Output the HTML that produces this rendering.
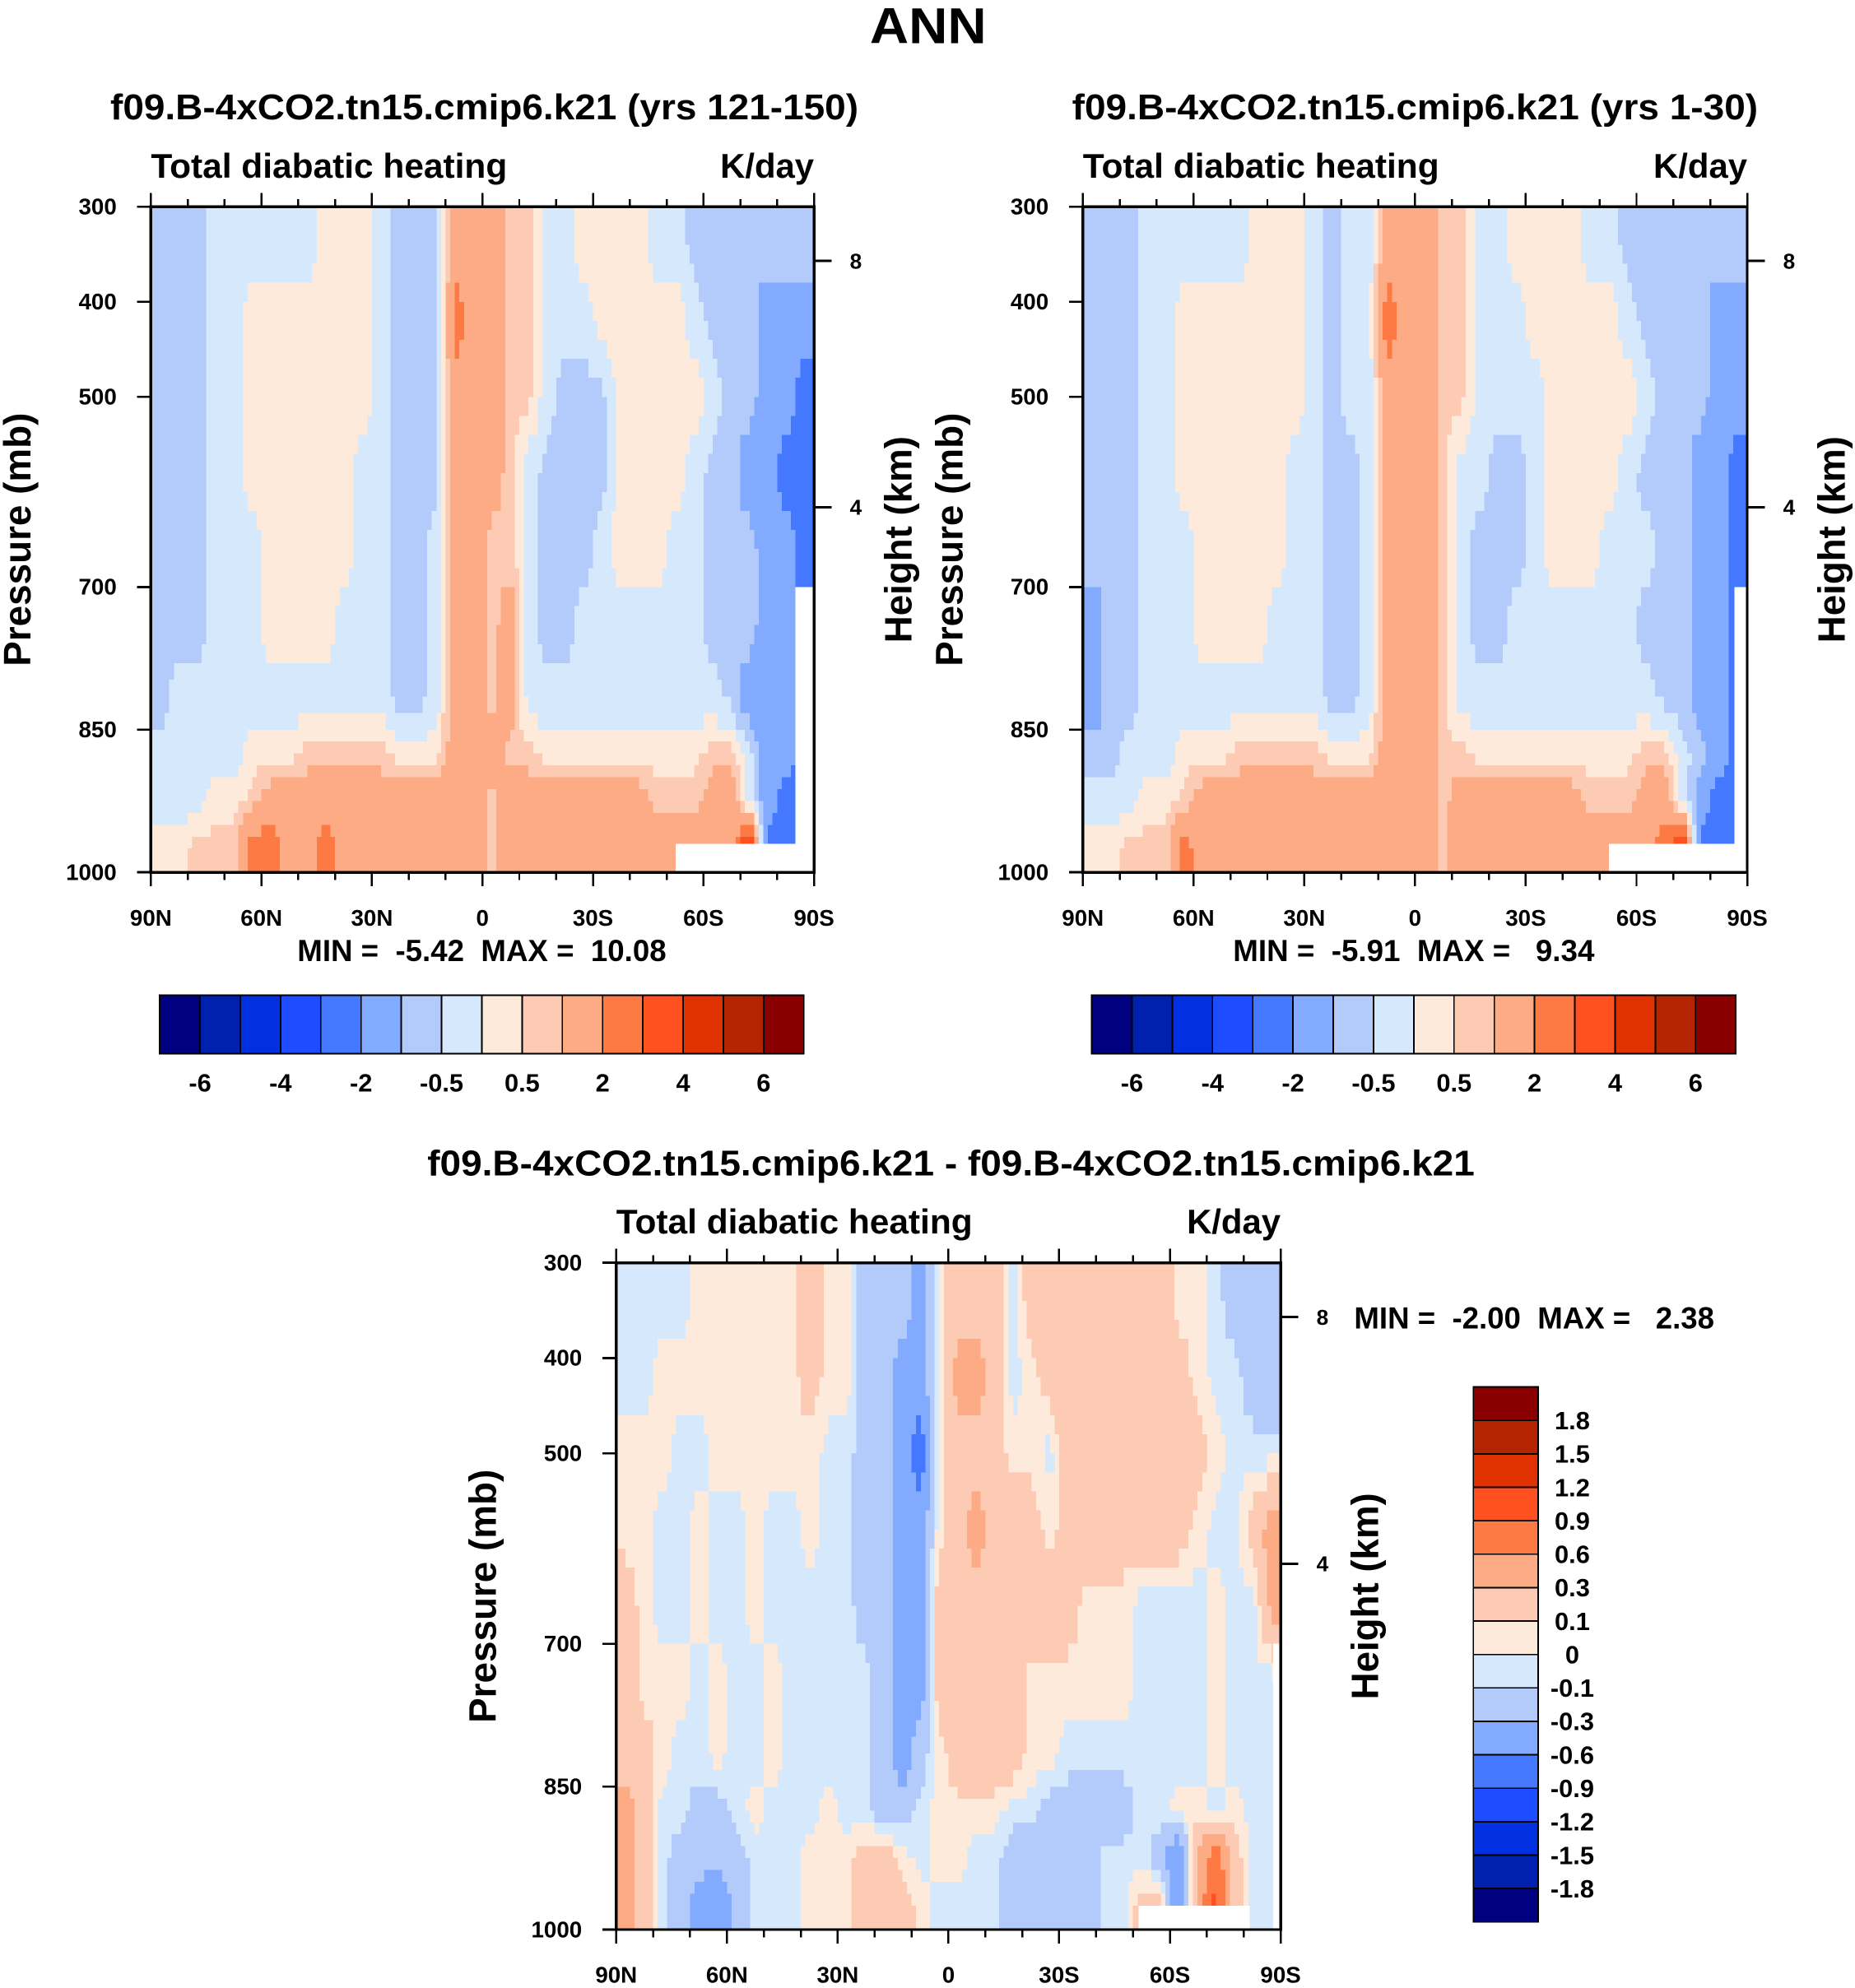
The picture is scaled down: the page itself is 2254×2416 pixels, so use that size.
<!DOCTYPE html>
<html><head><meta charset="utf-8"><style>
html,body{margin:0;padding:0;background:#fff}
svg{display:block}
text{font-family:"Liberation Sans",Arial,sans-serif;font-weight:bold;fill:#000}
</style></head><body>
<svg id="fig" width="2254" height="2416" viewBox="0 0 1463 1568" xmlns="http://www.w3.org/2000/svg" shape-rendering="crispEdges">
<rect x="0" y="0" width="1463" height="1568" fill="#fff"/>
<text x="732" y="34" font-size="40" text-anchor="middle" textLength="92" lengthAdjust="spacingAndGlyphs">ANN</text>
<text x="382" y="94" font-size="28" text-anchor="middle" textLength="590" lengthAdjust="spacingAndGlyphs">f09.B-4xCO2.tn15.cmip6.k21 (yrs 121-150)</text>
<text x="1116" y="94" font-size="28" text-anchor="middle" textLength="541" lengthAdjust="spacingAndGlyphs">f09.B-4xCO2.tn15.cmip6.k21 (yrs 1-30)</text>
<text x="750" y="927" font-size="28" text-anchor="middle" textLength="826" lengthAdjust="spacingAndGlyphs">f09.B-4xCO2.tn15.cmip6.k21 - f09.B-4xCO2.tn15.cmip6.k21</text>
<g id="p1"></g>
<g id="p2"></g>
<g id="p3"></g>
<text x="380" y="758" font-size="24" text-anchor="middle" textLength="291" lengthAdjust="spacingAndGlyphs" xml:space="preserve">MIN =  -5.42  MAX =  10.08</text>
<text x="1115" y="758" font-size="24" text-anchor="middle" textLength="285" lengthAdjust="spacingAndGlyphs" xml:space="preserve">MIN =  -5.91  MAX =   9.34</text>
<text x="1068" y="1048" font-size="24" textLength="284" lengthAdjust="spacingAndGlyphs" xml:space="preserve">MIN =  -2.00  MAX =   2.38</text>
<g id="cb1"></g>
<g id="cb2"></g>
<g id="cb3"></g>
</svg>
<script>
const NS="http://www.w3.org/2000/svg";
const pressureEdges=[300,380,460,540,620,700,780,850,900,950,1000];
const latEdges=[90,85,80,75,70,65,60,55,50,45,40,35,30,25,20,15,10,5,0,-5,-10,-15,-20,-25,-30,-35,-40,-45,-50,-55,-60,-65,-70,-75,-80,-85,-90];
const xTickLats=[90,60,30,0,-30,-60,-90];
const xTickLabels=["90N","60N","30N","0","30S","60S","90S"];
const yTickPressures=[300,400,500,700,850,1000];
const yTickLabels=["300","400","500","700","850","1000"];
const heightKm=["8","4"];
const heightP=[357,616];
const topLevels=[-6,-5,-4,-3,-2,-1,-0.5,0,0.5,1,2,3,4,5,6];
const topLevelLabels=["-6","-4","-2","-0.5","0.5","2","4","6"];
const diffLevels=[-1.8,-1.5,-1.2,-0.9,-0.6,-0.3,-0.1,0,0.1,0.3,0.6,0.9,1.2,1.5,1.8];
const diffLevelLabels=["-1.8","-1.5","-1.2","-0.9","-0.6","-0.3","-0.1","0","0.1","0.3","0.6","0.9","1.2","1.5","1.8"];
const palette=["#000080","#0020b0","#0030e0","#1e4cff","#4478ff","#82aaff","#b3cbfb","#d6e8fc","#feeada","#fdcbb3","#fdab85","#fd7a45","#ff5020","#e03200","#b42400","#8a0000"];

const panel1Values=[
[-0.7,-0.7,-0.7,-0.3,-0.3,-0.3,-0.3,-0.3,-0.3,0.3,0.3,0.3,-0.3,-0.7,-0.7,-0.7,1.5,1.5,1.5,0.7,0.7,-0.3,-0.3,0.3,0.3,0.3,0.3,-0.3,-0.3,-0.7,-0.7,-0.7,-0.7,-0.7,-0.7,-0.7],
[-0.7,-0.7,-0.7,-0.3,-0.3,0.3,0.3,0.3,0.3,0.3,0.3,0.3,-0.3,-0.7,-0.7,-0.7,2.5,1.5,1.5,0.7,0.7,-0.3,-0.3,-0.3,0.3,0.3,0.3,0.3,0.3,-0.3,-0.7,-0.7,-0.7,-1.5,-1.5,-1.5],
[-0.7,-0.7,-0.7,-0.3,-0.3,0.3,0.3,0.3,0.3,0.3,0.3,0.3,-0.3,-0.7,-0.7,-0.7,1.5,1.5,1.5,0.7,0.7,-0.3,-0.7,-0.7,-0.7,0.3,0.3,0.3,0.3,0.3,-0.3,-0.7,-0.7,-1.5,-1.5,-2.5],
[-0.7,-0.7,-0.7,-0.3,-0.3,0.3,0.3,0.3,0.3,0.3,0.3,-0.3,-0.3,-0.7,-0.7,-0.7,1.5,1.5,1.5,0.7,-0.3,-0.7,-0.7,-0.7,-0.7,0.3,0.3,0.3,0.3,-0.3,-0.7,-0.7,-1.5,-1.5,-2.5,-2.5],
[-0.7,-0.7,-0.7,-0.3,-0.3,-0.3,0.3,0.3,0.3,0.3,0.3,-0.3,-0.3,-0.7,-0.7,-0.3,1.5,1.5,0.7,0.7,-0.3,-0.7,-0.7,-0.7,-0.3,0.3,0.3,0.3,-0.3,-0.3,-0.7,-0.7,-0.7,-1.5,-1.5,-2.5],
[-0.7,-0.7,-0.7,-0.3,-0.3,-0.3,0.3,0.3,0.3,0.3,-0.3,-0.3,-0.3,-0.7,-0.7,-0.3,1.5,1.5,0.7,1.5,-0.3,-0.7,-0.7,-0.3,-0.3,-0.3,-0.3,-0.3,-0.3,-0.3,-0.7,-0.7,-0.7,-1.5,-1.5,-2.5],
[-0.7,-0.3,-0.3,-0.3,-0.3,-0.3,-0.3,-0.3,-0.3,-0.3,-0.3,-0.3,-0.3,-0.7,-0.7,-0.3,1.5,1.5,0.7,1.5,-0.3,-0.3,-0.3,-0.3,-0.3,-0.3,-0.3,-0.3,-0.3,-0.3,-0.3,-0.7,-1.5,-1.5,-1.5,-2.5],
[-0.3,-0.3,-0.3,-0.3,-0.3,0.3,0.3,0.3,0.7,0.7,0.7,0.7,0.7,0.3,0.3,0.3,1.5,1.5,1.5,0.7,0.7,0.3,0.3,0.3,0.3,0.3,0.3,0.3,0.3,0.3,0.7,0.7,-0.3,-1.5,-1.5,-2.5],
[-0.3,-0.3,-0.3,0.3,0.3,0.7,1.5,1.5,1.5,1.5,1.5,1.5,1.5,1.5,1.5,1.5,1.5,1.5,0.7,1.5,1.5,1.5,1.5,1.5,1.5,1.5,1.5,0.7,0.7,0.7,1.5,1.5,-0.3,-1.5,-2.5,-2.5],
[0.3,0.3,0.7,0.7,0.7,2.5,2.5,1.5,1.5,2.5,1.5,1.5,1.5,1.5,1.5,1.5,1.5,1.5,0.7,1.5,1.5,1.5,1.5,1.5,1.5,1.5,1.5,1.5,1.5,1.5,1.5,1.5,4.5,-2.5,-2.5,-2.5]
];
const panel2Values=[
[-0.7,-0.7,-0.7,-0.3,-0.3,-0.3,-0.3,-0.3,-0.3,0.3,0.3,0.3,-0.3,-0.7,-0.3,-0.3,1.5,1.5,1.5,0.7,0.7,-0.3,-0.3,0.3,0.3,0.3,0.3,-0.3,-0.3,-0.7,-0.7,-0.7,-0.7,-0.7,-0.7,-0.7],
[-0.7,-0.7,-0.7,-0.3,-0.3,0.3,0.3,0.3,0.3,0.3,0.3,0.3,-0.3,-0.7,-0.3,-0.3,2.5,1.5,1.5,0.7,0.7,-0.3,-0.3,-0.3,0.3,0.3,0.3,0.3,0.3,-0.3,-0.7,-0.7,-0.7,-0.7,-1.5,-1.5],
[-0.7,-0.7,-0.7,-0.3,-0.3,0.3,0.3,0.3,0.3,0.3,0.3,0.3,-0.3,-0.7,-0.3,-0.3,1.5,1.5,1.5,0.7,0.7,-0.3,-0.3,-0.3,-0.3,0.3,0.3,0.3,0.3,0.3,-0.3,-0.7,-0.7,-0.7,-1.5,-1.5],
[-0.7,-0.7,-0.7,-0.3,-0.3,0.3,0.3,0.3,0.3,0.3,0.3,-0.3,-0.3,-0.7,-0.7,-0.3,1.5,1.5,1.5,0.7,-0.3,-0.3,-0.7,-0.7,-0.3,0.3,0.3,0.3,0.3,-0.3,-0.7,-0.7,-0.7,-1.5,-1.5,-2.5],
[-0.7,-0.7,-0.7,-0.3,-0.3,-0.3,0.3,0.3,0.3,0.3,0.3,-0.3,-0.3,-0.7,-0.7,-0.3,1.5,1.5,1.5,0.7,-0.3,-0.7,-0.7,-0.7,-0.3,0.3,0.3,0.3,-0.3,-0.3,-0.3,-0.7,-0.7,-1.5,-1.5,-2.5],
[-1.5,-0.7,-0.7,-0.3,-0.3,-0.3,0.3,0.3,0.3,0.3,-0.3,-0.3,-0.3,-0.7,-0.7,-0.3,1.5,1.5,1.5,0.7,-0.3,-0.7,-0.7,-0.3,-0.3,-0.3,-0.3,-0.3,-0.3,-0.3,-0.7,-0.7,-0.7,-1.5,-1.5,-2.5],
[-1.5,-0.7,-0.7,-0.3,-0.3,-0.3,-0.3,-0.3,-0.3,-0.3,-0.3,-0.3,-0.3,-0.7,-0.7,-0.3,1.5,1.5,1.5,0.7,-0.3,-0.3,-0.3,-0.3,-0.3,-0.3,-0.3,-0.3,-0.3,-0.3,-0.3,-0.7,-0.7,-1.5,-1.5,-2.5],
[-0.7,-0.7,-0.3,-0.3,-0.3,0.3,0.3,0.3,0.7,0.7,0.7,0.7,0.7,0.3,0.3,0.3,1.5,1.5,1.5,0.7,0.7,0.3,0.3,0.3,0.3,0.3,0.3,0.3,0.3,0.3,0.7,0.7,-0.3,-0.7,-1.5,-2.5],
[-0.3,-0.3,-0.3,0.3,0.3,0.7,1.5,1.5,1.5,1.5,1.5,1.5,1.5,1.5,1.5,1.5,1.5,1.5,1.5,0.7,1.5,1.5,1.5,1.5,1.5,1.5,1.5,0.7,0.7,0.7,1.5,1.5,-0.3,-1.5,-2.5,-2.5],
[0.3,0.3,0.7,0.7,0.7,2.5,1.5,1.5,1.5,1.5,1.5,1.5,1.5,1.5,1.5,1.5,1.5,1.5,1.5,0.7,1.5,1.5,1.5,1.5,1.5,1.5,1.5,1.5,1.5,1.5,1.5,2.5,4.5,-2.5,-2.5,-2.5]
];
const panel3Values=[
[-0.05,-0.05,-0.05,-0.05,0.05,0.05,0.05,0.05,0.05,0.05,0.2,0.05,0.05,-0.2,-0.2,-0.2,-0.4,0.05,0.2,0.2,0.2,-0.05,0.2,0.2,0.2,0.2,0.2,0.2,0.2,0.2,0.05,0.05,-0.05,-0.2,-0.2,-0.2],
[-0.05,-0.05,0.05,0.05,0.05,0.05,0.05,0.05,0.05,0.05,0.2,0.05,0.05,-0.2,-0.2,-0.4,-0.4,0.05,0.4,0.4,0.2,-0.05,0.05,0.2,0.2,0.2,0.2,0.2,0.2,0.2,0.2,0.05,-0.05,-0.05,-0.2,-0.2],
[0.05,0.05,0.05,-0.05,-0.05,0.05,0.05,0.05,0.05,0.05,0.05,-0.05,-0.05,-0.2,-0.2,-0.4,-0.8,0.05,0.2,0.2,0.2,0.05,0.05,-0.05,0.2,0.2,0.2,0.2,0.2,0.2,0.2,0.2,0.05,-0.05,-0.05,-0.05],
[0.05,0.05,-0.05,-0.05,0.05,-0.05,-0.05,0.05,-0.05,-0.05,0.05,-0.05,-0.05,-0.2,-0.2,-0.4,-0.4,0.05,0.2,0.4,0.2,0.2,0.2,0.05,0.2,0.2,0.2,0.2,0.2,0.2,0.2,0.05,-0.05,-0.05,0.2,0.4],
[0.2,0.05,-0.05,-0.05,0.05,-0.05,-0.05,0.05,-0.05,-0.05,-0.05,-0.05,-0.05,-0.2,-0.2,-0.4,-0.4,0.2,0.2,0.2,0.2,0.2,0.2,0.2,0.2,0.05,0.05,0.05,-0.05,-0.05,-0.05,-0.05,0.05,-0.05,-0.05,0.4],
[0.2,0.05,0.05,0.05,-0.05,0.05,-0.05,-0.05,0.05,-0.05,-0.05,-0.05,-0.05,-0.05,-0.2,-0.4,-0.4,0.2,0.2,0.2,0.2,0.2,0.05,0.05,0.05,0.05,0.05,0.05,-0.05,-0.05,-0.05,-0.05,0.05,-0.05,-0.05,-0.05],
[0.2,0.2,0.05,-0.05,-0.05,0.05,-0.05,-0.05,0.05,-0.05,-0.05,-0.05,-0.05,-0.05,-0.2,-0.4,-0.2,0.05,0.2,0.2,0.2,0.2,0.05,0.05,-0.05,-0.05,-0.05,-0.05,-0.05,-0.05,-0.05,-0.05,0.05,-0.05,-0.05,-0.05],
[0.4,0.2,-0.05,-0.05,-0.2,-0.2,-0.05,0.05,-0.05,-0.05,-0.05,0.05,-0.05,-0.05,-0.2,-0.2,-0.05,0.05,0.05,0.05,0.05,-0.05,-0.05,-0.2,-0.2,-0.2,-0.2,-0.2,-0.05,-0.05,0.05,0.05,-0.05,0.05,-0.05,-0.05],
[0.4,0.2,-0.05,-0.2,-0.2,-0.2,-0.2,-0.05,-0.05,-0.05,0.05,0.05,0.05,0.2,0.2,0.05,-0.05,0.05,0.05,-0.05,-0.05,-0.2,-0.2,-0.2,-0.2,-0.2,-0.05,-0.05,-0.05,-0.2,-0.6,0.4,0.8,0.2,-0.05,-0.05],
[0.4,0.2,-0.05,-0.2,-0.4,-0.6,-0.2,-0.05,-0.05,-0.05,0.05,0.05,0.05,0.2,0.2,0.2,0.05,-0.05,-0.05,-0.05,-0.05,-0.2,-0.2,-0.2,-0.2,-0.2,-0.05,-0.05,0.2,0.2,-0.6,0.4,1.0,0.2,-0.05,-0.05]
];
// missing-data masks: [latFrom, latTo, pFrom, pTo]
const panel1Masks=[[-52.5,-90,970,1000],[-85,-90,700,1000]];
const panel2Masks=[[-52.5,-87,970,1000],[-86.5,-90,700,1000]];
const panel3Masks=[[-51.5,-81.5,975,1000],[-88,-90,700,1000]];

function mk(tag,attrs,parent){const e=document.createElementNS(NS,tag);for(const k in attrs)e.setAttribute(k,attrs[k]);parent.appendChild(e);return e;}
function colorFor(v,levels){let i=0;while(i<levels.length&&v>=levels[i])i++;return palette[i];}
function sampleAt(vals,fr,fc){
  // bilinear interpolation between cell centres (fr, fc in cell-index space, centre at k+0.5)
  const R=vals.length,C=vals[0].length;
  let r=fr-0.5,c=fc-0.5;
  r=Math.max(0,Math.min(R-1,r));c=Math.max(0,Math.min(C-1,c));
  const r0=Math.floor(r),c0=Math.floor(c),r1=Math.min(R-1,r0+1),c1=Math.min(C-1,c0+1);
  const dr=r-r0,dc=c-c0;
  return vals[r0][c0]*(1-dr)*(1-dc)+vals[r0][c1]*(1-dr)*dc+vals[r1][c0]*dr*(1-dc)+vals[r1][c1]*dr*dc;
}

function drawPanel(gid,vals,levels,masks,x0,y0,w,h,tag){
  const g=document.getElementById(gid);
  const xs=lat=>x0+(90-lat)/180*w;
  const ys=p=>y0+(p-300)/700*h;
  const S=4;
  for(let r=0;r<vals.length;r++){for(let c=0;c<vals[r].length;c++){
    const xa=xs(latEdges[c]),xb=xs(latEdges[c+1]),ya=ys(pressureEdges[r]),yb=ys(pressureEdges[r+1]);
    const sw=(xb-xa)/S,sh=(yb-ya)/S;
    for(let i=0;i<S;i++){for(let j=0;j<S;j++){
      const v=sampleAt(vals,r+(i+0.5)/S,c+(j+0.5)/S);
      const el=mk('rect',{x:xa+j*sw,y:ya+i*sh,width:sw+0.5,height:sh+0.5,fill:colorFor(v,levels)},g);
      
      
    }}
  }}
  for(const m of masks){
    const el=mk('rect',{x:xs(m[0]),y:ys(m[2]),width:xs(m[1])-xs(m[0])+0.5,height:ys(m[3])-ys(m[2]),fill:'#fff'},g);
    
    
  }
  const frame=mk('rect',{x:x0,y:y0,width:w,height:h,fill:'none',stroke:'#000','stroke-width':2.2},g);
  
  
  for(let lat=90;lat>=-90;lat-=10){
    const major=(lat%30===0);const L=major?11:6;const x=xs(lat);
    const t1=mk('line',{x1:x,x2:x,y1:y0,y2:y0-L,stroke:'#000','stroke-width':1.6},g);
    
    
    const t2=mk('line',{x1:x,x2:x,y1:y0+h,y2:y0+h+L,stroke:'#000','stroke-width':1.6},g);
    
    
  }
  for(let i=0;i<xTickLats.length;i++){
    const t=mk('text',{x:xs(xTickLats[i]),y:y0+h+42,'font-size':18,'text-anchor':'middle'},g);
    t.textContent=xTickLabels[i];
    
    
  }
  for(let i=0;i<yTickPressures.length;i++){
    const y=ys(yTickPressures[i]);
    const l=mk('line',{x1:x0-11,x2:x0,y1:y,y2:y,stroke:'#000','stroke-width':1.8},g);
    
    
    const t=mk('text',{x:x0-27,y:y+6,'font-size':18,'text-anchor':'end'},g);
    t.textContent=yTickLabels[i];
    
    
  }
  for(let i=0;i<heightKm.length;i++){
    const y=ys(heightP[i]);
    const l=mk('line',{x1:x0+w,x2:x0+w+14,y1:y,y2:y,stroke:'#000','stroke-width':1.8},g);
    
    
    const t=mk('text',{x:x0+w+33,y:y+6,'font-size':17,'text-anchor':'middle'},g);
    t.textContent=heightKm[i];
    
    
  }
  const lt=mk('text',{x:x0,y:y0-23,'font-size':27,textLength:281,lengthAdjust:'spacingAndGlyphs'},g);lt.textContent='Total diabatic heating';
  
  
  const rt=mk('text',{x:x0+w,y:y0-23,'font-size':27,'text-anchor':'end',textLength:74,lengthAdjust:'spacingAndGlyphs'},g);rt.textContent='K/day';
  
  
  const ya=mk('text',{x:0,y:0,'font-size':30,'text-anchor':'middle',textLength:200,lengthAdjust:'spacingAndGlyphs',transform:`translate(${x0-95},${y0+h/2}) rotate(-90)`},g);ya.textContent='Pressure (mb)';
  
  
  const hy=mk('text',{x:0,y:0,'font-size':30,'text-anchor':'middle',textLength:163,lengthAdjust:'spacingAndGlyphs',transform:`translate(${x0+w+77},${y0+h/2}) rotate(-90)`},g);hy.textContent='Height (km)';
  
  
}
drawPanel('p1',panel1Values,topLevels,panel1Masks,119,163,523,525,'panel1');
drawPanel('p2',panel2Values,topLevels,panel2Masks,854,163,524,525,'panel2');
drawPanel('p3',panel3Values,diffLevels,panel3Masks,486,996,524,526,'panel3');

function hColorbar(gid,x0,y0,w,h){
  const g=document.getElementById(gid);const bw=w/palette.length;
  for(let i=0;i<palette.length;i++){
    const r=mk('rect',{x:x0+i*bw,y:y0,width:bw,height:h,fill:palette[i],stroke:'#000','stroke-width':1.2},g);
    
    
  }
  for(let k=0;k<topLevelLabels.length;k++){
    const t=mk('text',{x:x0+(2*k+1)*bw,y:y0+h+30,'font-size':20,'text-anchor':'middle'},g);
    t.textContent=topLevelLabels[k];
    
    
  }
}
hColorbar('cb1',126,785,508,46);
hColorbar('cb2',861,785,508,46);
(function(){
  const g=document.getElementById('cb3');const x0=1162,y0=1094,w=51,h=422;const bh=h/palette.length;
  for(let i=0;i<palette.length;i++){
    const r=mk('rect',{x:x0,y:y0+h-(i+1)*bh,width:w,height:bh,fill:palette[i],stroke:'#000','stroke-width':1.2},g);
    
    
  }
  for(let k=0;k<diffLevelLabels.length;k++){
    const t=mk('text',{x:1240,y:y0+h-(k+1)*bh+7,'font-size':20,'text-anchor':'middle'},g);
    t.textContent=diffLevelLabels[k];
    
    
  }
})();
</script>
</body></html>
